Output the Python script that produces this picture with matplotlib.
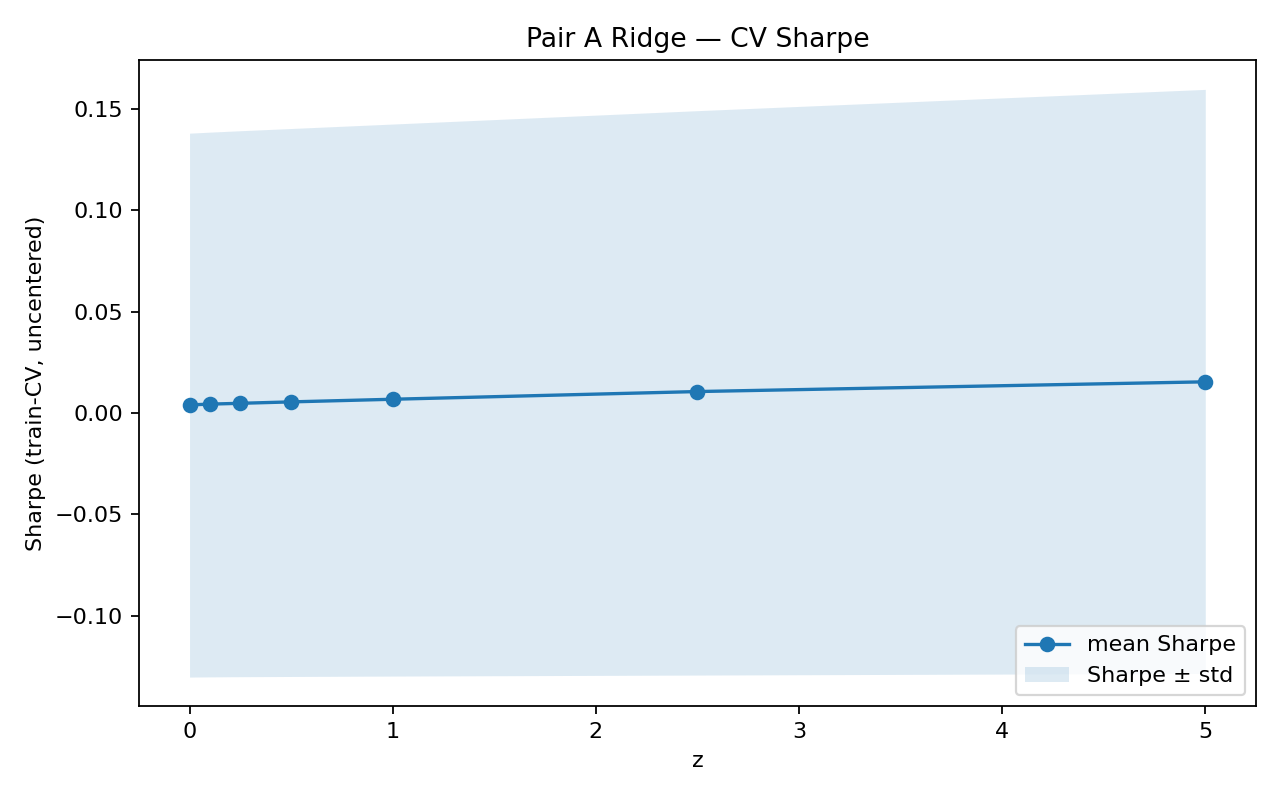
import matplotlib
matplotlib.use("Agg")
import matplotlib.pyplot as plt
import numpy as np

z = [0, 0.1, 0.25, 0.5, 1, 2.5, 5]
mean_sharpe = [0.0040, 0.0044, 0.0048, 0.0055, 0.0068, 0.0106, 0.0154]
upper = [0.1381, 0.1386, 0.1393, 0.1404, 0.1426, 0.1492, 0.1597]
lower = [-0.1303, -0.1302, -0.1301, -0.1300, -0.1298, -0.1293, -0.1285]

fig, ax = plt.subplots(figsize=(8, 5), dpi=160)
ax.plot(z, mean_sharpe, marker="o", color="C0", label="mean Sharpe")
ax.fill_between(z, lower, upper, color="C0", alpha=0.15, linewidth=0, label="Sharpe ± std")
ax.set_title("Pair A Ridge — CV Sharpe")
ax.set_xlabel("z")
ax.set_ylabel("Sharpe (train-CV, uncentered)")
ax.legend(loc="lower right")
fig.subplots_adjust(left=0.1084, right=0.9813, top=0.925, bottom=0.1169)
fig.savefig("out.png", dpi=160)
